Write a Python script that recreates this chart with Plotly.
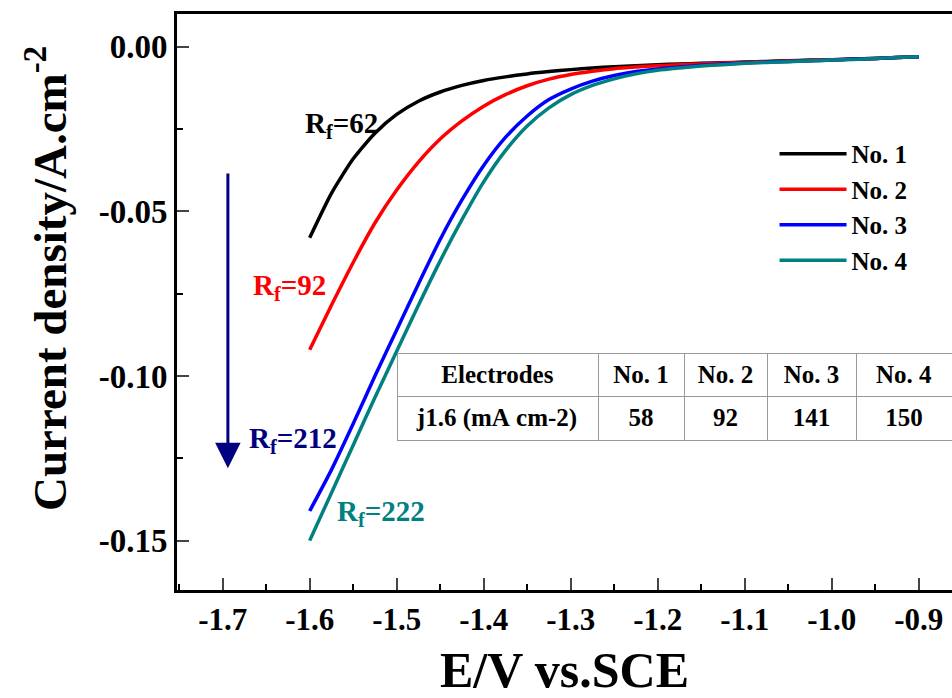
import plotly.graph_objects as go

# ---- data ----
E = [-1.6, -1.575, -1.55, -1.525, -1.5, -1.475, -1.45, -1.425, -1.4, -1.375,
     -1.35, -1.325, -1.3, -1.275, -1.25, -1.225, -1.2, -1.175, -1.15, -1.125,
     -1.1, -1.075, -1.05, -1.025, -1.0, -0.975, -0.95, -0.925, -0.9]
j_no1 = [-0.058, -0.0445, -0.034, -0.0262, -0.0205, -0.0165, -0.0137, -0.0117, -0.0102, -0.0091,
         -0.0082, -0.0075, -0.0069, -0.0064, -0.0060, -0.0057, -0.0054, -0.0052, -0.0050, -0.0048,
         -0.0046, -0.0044, -0.0042, -0.0040, -0.0039, -0.0037, -0.0035, -0.0032, -0.0030]
j_no2 = [-0.092, -0.0785, -0.0655, -0.0535, -0.0435, -0.035, -0.028, -0.0225, -0.018, -0.0145,
         -0.0118, -0.0098, -0.0084, -0.0074, -0.0066, -0.0061, -0.0057, -0.0054, -0.0052, -0.0049,
         -0.0047, -0.0045, -0.0043, -0.0041, -0.0039, -0.0037, -0.0035, -0.0032, -0.0030]
j_no3 = [-0.141, -0.1285, -0.1145, -0.100, -0.086, -0.072, -0.0585, -0.0465, -0.036, -0.0275,
         -0.021, -0.016, -0.0128, -0.0104, -0.0087, -0.0075, -0.0067, -0.0061, -0.0056, -0.0052,
         -0.0049, -0.0046, -0.0044, -0.0042, -0.0040, -0.0037, -0.0035, -0.0032, -0.0030]
j_no4 = [-0.150, -0.1355, -0.121, -0.1065, -0.0925, -0.0785, -0.065, -0.0525, -0.041, -0.0315,
         -0.024, -0.0185, -0.0145, -0.0117, -0.0097, -0.0082, -0.0071, -0.0064, -0.0058, -0.0054,
         -0.0050, -0.0047, -0.0045, -0.0042, -0.0040, -0.0038, -0.0035, -0.0032, -0.0030]

series_names = ["No. 1", "No. 2", "No. 3", "No. 4"]
series_colors = ["#000000", "#FF0000", "#0000FF", "#008080"]
series_values = [j_no1, j_no2, j_no3, j_no4]

rf_labels = ["62", "92", "212", "222"]
rf_colors = ["#000000", "#FF0000", "#000080", "#008080"]
rf_x = [-1.564, -1.6235, -1.619, -1.5175]
rf_y = [-0.0238, -0.073, -0.1194, -0.1415]

x_tickvals = [-1.7, -1.6, -1.5, -1.4, -1.3, -1.2, -1.1, -1.0, -0.9]
x_ticktext = ["-1.7", "-1.6", "-1.5", "-1.4", "-1.3", "-1.2", "-1.1", "-1.0", "-0.9"]
y_tickvals = [0.0, -0.05, -0.10, -0.15]
y_ticktext = ["0.00", "-0.05", "-0.10", "-0.15"]

table_header = ["Electrodes", "No. 1", "No. 2", "No. 3", "No. 4"]
table_row = ["j1.6 (mA cm-2)", "58", "92", "141", "150"]

FONT = "Liberation Serif, Times New Roman, serif"


def nb(s):
    return "<b>%s</b>" % s.replace(" ", "\u00a0")


fig = go.Figure()
for name, color, vals in zip(series_names, series_colors, series_values):
    fig.add_trace(go.Scatter(x=E, y=vals, mode="lines", name=name,
                             line=dict(color=color, width=3.5, shape="spline", smoothing=0.6)))

# table
fig.add_trace(go.Table(
    domain=dict(x=[(397 - 177) / 775, 1.0], y=[(590 - 455) / 576, (590 - 353) / 576]),
    columnwidth=[201, 86, 83, 89, 96],
    header=dict(values=[nb(v) for v in table_header],
                fill_color="white", line=dict(color="#999999", width=1),
                align="center", height=37,
                font=dict(family=FONT, size=25, color="black")),
    cells=dict(values=[[nb(v)] for v in table_row],
               fill_color="white", line=dict(color="#999999", width=1),
               align="center", height=37,
               font=dict(family=FONT, size=25, color="black")),
))

for lab, c, x, y in zip(rf_labels, rf_colors, rf_x, rf_y):
    fig.add_annotation(x=x, y=y, xref="x", yref="y", showarrow=False,
                       text="<b>R<sub>f</sub>=%s</b>" % lab,
                       font=dict(family=FONT, size=29, color=c))

# arrow
fig.add_annotation(x=-1.694, y=-0.128, ax=-1.694, ay=-0.038, xref="x", yref="y",
                   axref="x", ayref="y", showarrow=True, arrowhead=2, arrowsize=1.7,
                   arrowwidth=3, arrowcolor="#000080", text="")

# y-axis title as rotated annotation
fig.add_annotation(x=-(177 - 46) / 775, y=(590 - 279) / 576, xref="paper", yref="paper",
                   xanchor="center", yanchor="middle",
                   showarrow=False, textangle=-90,
                   text="<b>Current density/A.cm<sup>-2</sup></b>",
                   font=dict(family=FONT, size=47, color="black"))

fig.update_layout(
    width=952, height=698,
    margin=dict(l=177, r=0, t=14, b=108),
    paper_bgcolor="white", plot_bgcolor="white",
    font=dict(family=FONT, color="black"),
    legend=dict(x=0.771, y=0.797, xanchor="left", yanchor="top",
                bgcolor="rgba(0,0,0,0)", itemwidth=67, tracegroupgap=0,
                font=dict(family=FONT, size=25, color="black", weight="bold")),
)
fig.update_xaxes(range=[-1.7525, -0.8617], tickmode="array", tickvals=x_tickvals,
                 ticktext=x_ticktext, ticks="inside", ticklen=12, tickwidth=2,
                 showline=True, linewidth=3, linecolor="black", mirror=True,
                 showgrid=False, zeroline=False,
                 tickfont=dict(family=FONT, size=31, color="black", weight="bold"),
                 minor=dict(tickmode="linear", tick0=-1.75, dtick=0.1, ticks="inside",
                            ticklen=6, tickwidth=2, tickcolor="black", showgrid=False),
                 title=dict(text="E/V vs.SCE", standoff=18,
                            font=dict(family=FONT, size=50, color="black", weight="bold")))
fig.update_yaxes(range=[-0.165, 0.01], tickmode="array", tickvals=y_tickvals,
                 ticktext=y_ticktext, ticks="inside", ticklen=12, tickwidth=2,
                 showline=True, linewidth=3, linecolor="black", mirror=False,
                 showgrid=False, zeroline=False,
                 tickfont=dict(family=FONT, size=33, color="black", weight="bold"),
                 minor=dict(tickmode="linear", tick0=-0.025, dtick=0.05, ticks="inside",
                            ticklen=6, tickwidth=2, tickcolor="black", showgrid=False))

fig.write_html("out.html")
